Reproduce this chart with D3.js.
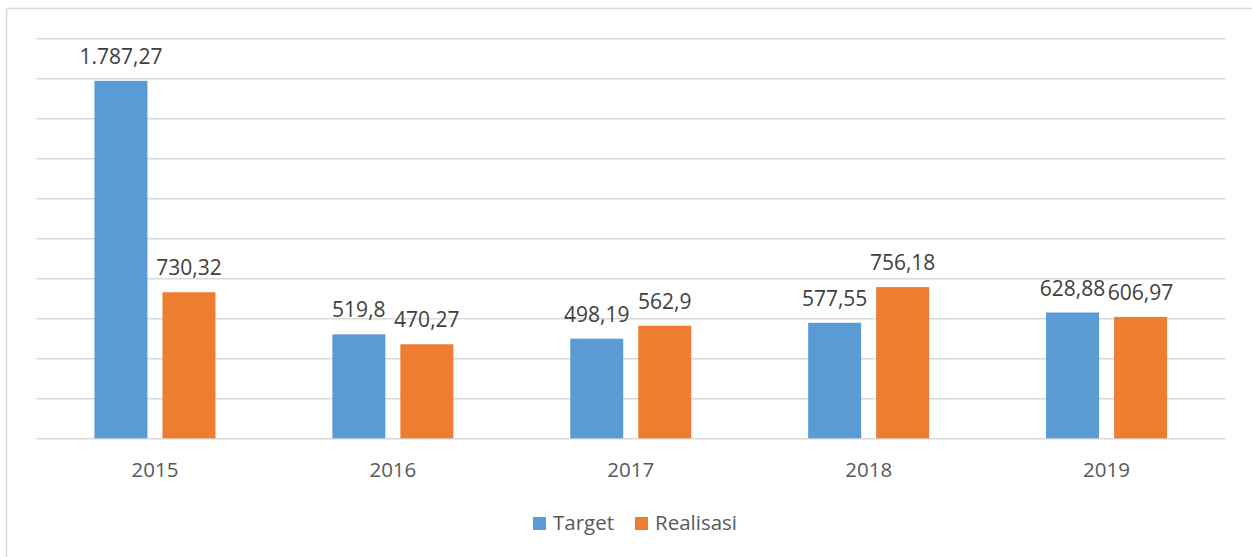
<!DOCTYPE html>
<html>
<head>
<meta charset="utf-8">
<script src="https://cdn.jsdelivr.net/npm/d3@7"></script>
<style>
  body { margin: 0; background: #fff; }
  text { font-family: "Open Sans", sans-serif; }
</style>
</head>
<body>
<script>
// chart data
var years = ["2015", "2016", "2017", "2018", "2019"];
var series = ["Target", "Realisasi"];
var target = [1787.27, 519.8, 498.19, 577.55, 628.88];
var realisasi = [730.32, 470.27, 562.9, 756.18, 606.97];
var labelsTarget = ["1.787,27", "519,8", "498,19", "577,55", "628,88"];
var labelsRealisasi = ["730,32", "470,27", "562,9", "756,18", "606,97"];
var yTicks = [0, 200, 400, 600, 800, 1000, 1200, 1400, 1600, 1800, 2000];

var colors = ["#5B9BD5", "#ED7D31"];

var W = 1252, H = 557;
var margin = {top: 38.3, right: 26.5, bottom: 118.7, left: 36};
var width = W - margin.left - margin.right,
    height = H - margin.top - margin.bottom;

var svg = d3.select("body").append("svg")
    .attr("width", W)
    .attr("height", H);

// chart frame (only top and left edges show)
svg.append("line")
    .attr("x1", 6.5).attr("x2", W).attr("y1", 8.5).attr("y2", 8.5)
    .attr("stroke", "#d9d9d9").attr("stroke-width", 1.5);
svg.append("line")
    .attr("x1", 6.5).attr("x2", 6.5).attr("y1", 8.5).attr("y2", H)
    .attr("stroke", "#d9d9d9").attr("stroke-width", 1.5);

var g = svg.append("g")
    .attr("transform", "translate(" + margin.left + "," + margin.top + ")");

var x0 = d3.scaleBand()
    .domain(years)
    .range([0, width])
    .paddingInner(0)
    .paddingOuter(0);

var barW = 53, barGap = 15;
var x1 = d3.scaleOrdinal()
    .domain(series)
    .range([x0.bandwidth() / 2 - barGap / 2 - barW, x0.bandwidth() / 2 + barGap / 2]);

var y = d3.scaleLinear()
    .domain([0, 2000])
    .range([height, 0]);

// gridlines
var yAxis = d3.axisLeft(y)
    .tickValues(yTicks)
    .tickSize(-width)
    .tickFormat("");

g.append("g")
    .attr("class", "grid")
    .call(yAxis)
    .call(function(s) {
      s.select(".domain").remove();
      s.selectAll("line").attr("stroke", "#d9d9d9").attr("stroke-width", 1.5);
    });

// x axis labels
var xAxis = d3.axisBottom(x0).tickSize(0).tickPadding(24);
g.append("g")
    .attr("transform", "translate(0," + height + ")")
    .call(xAxis)
    .call(function(s) {
      s.select(".domain").remove();
      s.selectAll("text")
        .attr("fill", "#595959")
        .style("font-size", "20.5px")
        .style("font-family", "'Open Sans', sans-serif");
    });

var rows = years.map(function(yr, i) {
  return [
    {year: yr, key: "Target", value: target[i], label: labelsTarget[i]},
    {year: yr, key: "Realisasi", value: realisasi[i], label: labelsRealisasi[i]}
  ];
});

var groups = g.selectAll(".yr")
    .data(rows)
    .enter().append("g")
    .attr("transform", function(d) { return "translate(" + x0(d[0].year) + ",0)"; });

groups.selectAll("rect")
    .data(function(d) { return d; })
    .enter().append("rect")
    .attr("x", function(d) { return x1(d.key); })
    .attr("y", function(d) { return y(d.value); })
    .attr("width", barW)
    .attr("height", function(d) { return height - y(d.value); })
    .attr("fill", function(d, i) { return colors[i]; });

groups.selectAll("text")
    .data(function(d) { return d; })
    .enter().append("text")
    .attr("x", function(d) { return x1(d.key) + barW / 2; })
    .attr("y", function(d) { return y(d.value) - 17; })
    .attr("text-anchor", "middle")
    .attr("fill", "#404040")
    .style("font-size", "21px")
    .text(function(d) { return d.label; });

// legend
var legend = svg.append("g").attr("transform", "translate(533,517)");
var legX = [0, 102];
series.forEach(function(s, i) {
  legend.append("rect")
    .attr("x", legX[i]).attr("y", 0)
    .attr("width", 13).attr("height", 13)
    .attr("fill", colors[i]);
  legend.append("text")
    .attr("x", legX[i] + 20).attr("y", 13)
    .attr("fill", "#595959")
    .style("font-size", "20.5px")
    .text(s);
});
</script>
</body>
</html>
